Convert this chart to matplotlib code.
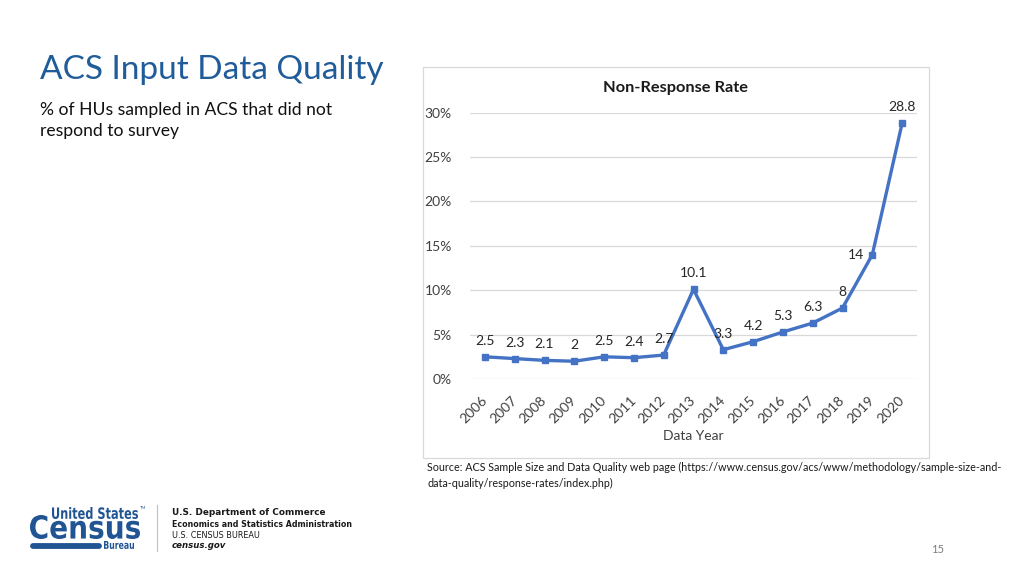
import matplotlib
matplotlib.use("Agg")
import matplotlib.pyplot as plt
import numpy as np
from matplotlib.patches import Rectangle, PathPatch
from matplotlib.textpath import TextPath
from matplotlib.font_manager import FontProperties
from matplotlib.transforms import Affine2D, IdentityTransform
from matplotlib.lines import Line2D

# ---------------- data ----------------
years = ["2006", "2007", "2008", "2009", "2010", "2011", "2012", "2013",
         "2014", "2015", "2016", "2017", "2018", "2019", "2020"]
nonresponse = [2.5, 2.3, 2.1, 2, 2.5, 2.4, 2.7, 10.1, 3.3, 4.2, 5.3, 6.3, 8, 14, 28.8]
yticks = [0, 5, 10, 15, 20, 25, 30]
ytick_labels = ["0%", "5%", "10%", "15%", "20%", "25%", "30%"]

W, H = 1024, 576
FONT = ["Lato", "DejaVu Sans"]
plt.rcParams["font.family"] = FONT

fig = plt.figure(figsize=(W / 100, H / 100), dpi=100)
fig.patch.set_facecolor("white")
renderer = fig.canvas.get_renderer()


def fx(px):
    return px / W


def fy(py):
    return 1 - py / H


def fit(x, yb, s, width, ha="left", **kw):
    t = fig.text(fx(x), fy(yb), s, va="baseline", ha=ha, **kw)
    bb = t.get_window_extent(renderer)
    t.set_fontsize(t.get_fontsize() * width / bb.width)
    return t


def word(s, x0, x1, ytop, ybot, color, weight="bold", style="normal", family="DejaVu Sans"):
    tp = TextPath((0, 0), s, size=10,
                  prop=FontProperties(family=family, weight=weight, style=style))
    ext = tp.get_extents()
    sx = (x1 - x0) / ext.width
    sy = (ybot - ytop) / ext.height
    tr = Affine2D().translate(-ext.x0, -ext.y0).scale(sx, sy).translate(x0, H - ybot)
    p = PathPatch(tp, transform=tr, facecolor=color, edgecolor="none")
    fig.add_artist(p)


# ---------------- slide text ----------------
title_blue = "#1f5c99"
fit(40, 79, "ACS Input Data Quality", 342, color=title_blue, fontsize=22)
sub1 = fit(40, 115, "% of HUs sampled in ACS that did not", 290, color="#111111", fontsize=12)
fig.text(fx(40), fy(136), "respond to survey", va="baseline", ha="left",
         color="#111111", fontsize=sub1.get_fontsize())

# ---------------- chart frame ----------------
fig.add_artist(Rectangle((fx(423), fy(458)), 506 / W, 391 / H, transform=fig.transFigure,
                         fill=False, edgecolor="#d9d9d9", linewidth=0.9))

fit(603, 92, "Non-Response Rate", 145, color="#1a1a1a", fontsize=11, fontweight="bold")

ax = fig.add_axes([fx(470), fy(379), 447 / W, (379 - 112.7) / H])
x = np.arange(len(years))
ax.plot(x, nonresponse, color="#4472C4", lw=2.4, marker="s", ms=5,
        markerfacecolor="#4472C4", markeredgecolor="#4472C4", zorder=3)
ax.set_xlim(-0.5, len(years) - 0.5)
ax.set_ylim(0, 30)
ax.set_yticks(yticks)
ax.set_yticklabels(ytick_labels)
ax.set_xticks(x)
ax.set_xticklabels(years, rotation=45, ha="right", va="center", rotation_mode="anchor")
ax.tick_params(axis="both", length=0, labelsize=10, labelcolor="#404040")
ax.tick_params(axis="x", pad=14)
ax.tick_params(axis="y", pad=13)
ax.grid(axis="y", color="#d9d9d9", lw=0.9)
ax.set_axisbelow(True)
for s in ax.spines.values():
    s.set_visible(False)
ax.set_facecolor("none")

for i, v in enumerate(nonresponse):
    lab = f"{v:g}"
    if years[i] == "2019":
        ax.annotate(lab, (i, v), xytext=(-6, 0), textcoords="offset points",
                    ha="right", va="center", fontsize=10, color="#262626")
    else:
        ax.annotate(lab, (i, v), xytext=(0, 11.5), textcoords="offset points",
                    ha="center", va="center", fontsize=10, color="#262626",
                    annotation_clip=False)

fig.text(fx(693), fy(436), "Data Year", ha="center", va="center", fontsize=10,
         color="#404040")

# ---------------- source ----------------
src1 = fit(427, 471, "Source: ACS Sample Size and Data Quality web page "
           "(https://www.census.gov/acs/www/methodology/sample-size-and-", 573,
           color="#1a1a1a", fontsize=7.5)
fig.text(fx(427), fy(487), "data-quality/response-rates/index.php)", va="baseline",
         ha="left", color="#1a1a1a", fontsize=src1.get_fontsize())

# ---------------- logo ----------------
logo_blue = "#205493"
word("United States", 52, 138, 507, 519, logo_blue)
fig.text(fx(140), fy(509), "TM", fontsize=3, color=logo_blue, va="baseline")
word("Census", 30, 140, 515, 539, logo_blue)
fig.add_artist(Line2D([33, 99], [H - 545.5, H - 545.5], lw=4.2, color=logo_blue,
                      solid_capstyle="round", transform=IdentityTransform()))
word("Bureau", 104, 134, 541, 549, logo_blue)
fig.add_artist(Line2D([157, 157], [H - 505, H - 551], lw=0.8, color="#bfbfbf",
                      transform=IdentityTransform()))
fit(172, 515, "U.S. Department of Commerce", 153, color="#1a1a1a", fontsize=7,
    fontweight="bold", family=["DejaVu Sans"])
fit(172, 527, "Economics and Statistics Administration", 181, color="#1a1a1a",
    fontsize=6, fontweight="bold", family=["DejaVu Sans"])
fit(172, 538, "U.S. CENSUS BUREAU", 88, color="#1a1a1a", fontsize=5,
    family=["DejaVu Sans"])
fit(172, 548, "census.gov", 55, color="#1a1a1a", fontsize=6, fontweight="bold",
    fontstyle="italic", family=["DejaVu Sans"])

# ---------------- page number ----------------
fig.text(fx(938), fy(553), "15", ha="center", va="baseline", fontsize=8, color="#7f7f7f")

fig.savefig("out.png", dpi=100)
